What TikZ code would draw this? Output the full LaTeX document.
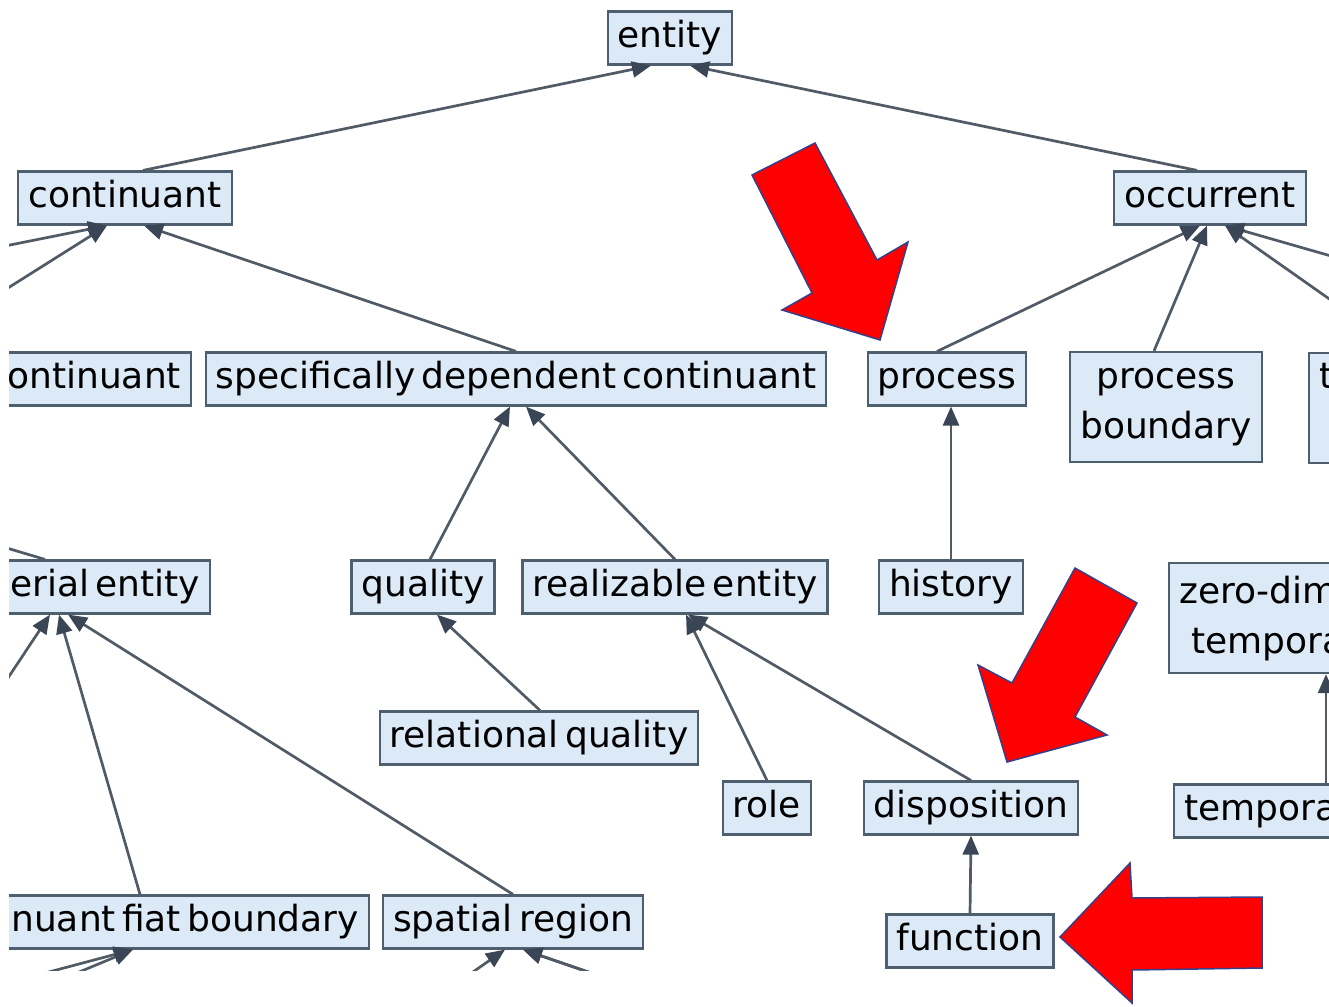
\documentclass[tikz,border=0pt]{standalone}
\usepackage{fontspec}
\setmainfont{DejaVu Sans}[WordSpace=0.55]
\usepackage{xcolor}
\usetikzlibrary{arrows.meta,calc}
\definecolor{boxfill}{HTML}{DCE9F6}
\definecolor{boxline}{HTML}{4E6070}
\definecolor{edgegray}{HTML}{515B66}
\definecolor{tipgray}{HTML}{3A4656}
\definecolor{pointerred}{HTML}{FF0000}
\definecolor{pointerline}{HTML}{34408A}
\tikzset{
  boxbase/.style = {rectangle, draw=boxline, fill=boxfill, line width=2.2pt,
                    font=\fontsize{36}{50}\selectfont, inner xsep=10pt},
  cls/.style     = {boxbase, inner ysep=0pt, minimum height=53pt,
                    text height=27pt, text depth=8pt},
  cls2/.style    = {boxbase, align=center, inner ysep=4pt, minimum height=110pt},
  isa/.style     = {draw=edgegray, line width=2.7pt,
                    -{Triangle[length=19pt,width=16pt,color=tipgray]}},
  stub/.style    = {draw=edgegray, line width=2.7pt},
  pointer/.style = {fill=pointerred, draw=pointerline, line width=1.5pt,
                    line join=miter}
}
\begin{document}
\begin{tikzpicture}[x=1pt, y=-1pt]
  \useasboundingbox (0,0) rectangle (1329,1006);

  \begin{scope}
    \clip (9,0) rectangle (1329,970);

    % ---- Top levels ----
    \node[cls] (ent)  at (670,38)   {entity};
    \node[cls] (cont) at (125,198)  {continuant};
    \node[cls] (occ)  at (1210,198) {occurrent};

    % ---- Second level ----
    \node[cls, anchor=east] (gdc) at (192,379) {ontinuant};
    \node[cls] (sdc)  at (516,379)  {specifically dependent continuant};
    \node[cls] (proc) at (947,379)  {process};
    \node[cls2] (pbd) at (1166,407) {process\\boundary};
    \node[cls2, anchor=north west, text width=150pt, align=left]
          (treg) at (1308,352) {t\\\strut};

    % ---- Third level ----
    \node[cls, anchor=east] (mat) at (211,587) {erial entity};
    \node[cls] (qual) at (423,587)  {quality};
    \node[cls] (real) at (675,587)  {realizable entity};
    \node[cls] (hist) at (951,587)  {history};
    \node[cls2, anchor=north west, text width=200pt, align=left]
          (zdim) at (1168,562) {zero-dim\\\hspace*{12pt}tempora};

    % ---- Lower levels ----
    \node[cls] (rqual) at (539,738) {relational quality};
    \node[cls] (role)  at (767,808) {role};
    \node[cls] (disp)  at (971,808) {disposition};
    \node[cls, anchor=west, text width=200pt, align=left]
          (tins) at (1173,811) {tempora};
    \node[cls, anchor=east] (fiat) at (370,922) {nuant fiat boundary};
    \node[cls] (sreg)  at (513,922) {spatial region};
    \node[cls] (func)  at (970,941) {function};

    % ---- Free ends outside the view ----
    \coordinate (offA) at (0,247);
    \coordinate (offB) at (0,293);
    \coordinate (offC) at (0,546);
    \coordinate (offD) at (1345,260);
    \coordinate (offE) at (1345,310);
    \coordinate (offF) at (0,690);
    \coordinate (offG) at (0,985);
    \coordinate (offH) at (0,1005);
    \coordinate (offI) at (440,995);
    \coordinate (offJ) at (640,990);
    \coordinate (offK) at (700,1010);

    % ---- Arrows ----
    \draw[isa] ([xshift=18pt]cont.north) -- ([xshift=-19pt]ent.south);
    \draw[isa] ([xshift=-13pt]occ.north) -- ([xshift=20pt]ent.south);
    \draw[isa] (offA) -- ([xshift=-18pt]cont.south);
    \draw[isa] (offB) -- ([xshift=-18pt]cont.south);
    \draw[isa] (sdc.north) -- ([xshift=19pt]cont.south);
    \draw[isa] ([xshift=-10pt]proc.north) -- ([xshift=-10pt]occ.south);
    \draw[isa] ([xshift=-12pt]pbd.north) -- ([xshift=-3pt]occ.south);
    \draw[isa] (offD) -- ([xshift=15pt]occ.south);
    \draw[isa] (offE) -- ([xshift=15pt]occ.south);
    \draw[isa] ([xshift=7pt]qual.north) -- ([xshift=-6pt]sdc.south);
    \draw[isa] (real.north) -- ([xshift=10pt]sdc.south);
    \draw[isa] (hist.north) -- ([xshift=4pt]proc.south);
    \draw[isa] ([xshift=1pt]rqual.north) -- ([xshift=14pt]qual.south);
    \draw[isa] (role.north) -- ([xshift=11pt]real.south);
    \draw[isa] (disp.north) -- ([xshift=13pt]real.south);
    \draw[isa] (func.north) -- (disp.south);
    \draw[isa] ([xshift=153pt]tins.north west) -- ([xshift=158pt]zdim.south west);
    \draw[stub] ([xshift=-166pt]mat.north east) -- (offC);
    \draw[isa] (offF) -- ([xshift=-161pt]mat.south east);
    \draw[isa] ([xshift=-230pt]fiat.north east) -- ([xshift=-152pt]mat.south east);
    \draw[isa] (sreg.north) -- ([xshift=-143pt]mat.south east);
    \draw[isa] (offG) -- ([xshift=-237pt]fiat.south east);
    \draw[isa] (offH) -- ([xshift=-237pt]fiat.south east);
    \draw[isa] (offI) -- ([xshift=-8pt]sreg.south);
    \draw[isa] (offJ) -- ([xshift=10pt]sreg.south);
    \draw[isa] (offK) -- ([xshift=10pt]sreg.south);
  \end{scope}

  % ---- Red pointers ----
  \draw[pointer] (752,175) -- (815,143) -- (877,260) -- (908,242)
                 -- (880,340) -- (782,310) -- (812,293) -- cycle;
  \draw[pointer] (1075,568) -- (1137,603) -- (1075,717) -- (1107,735)
                 -- (1007,762) -- (978,665) -- (1012,683) -- cycle;
  \draw[pointer] (1060,937) -- (1130,863) -- (1132,898) -- (1262,897)
                 -- (1262,968) -- (1132,970) -- (1132,1003) -- cycle;
\end{tikzpicture}
\end{document}
